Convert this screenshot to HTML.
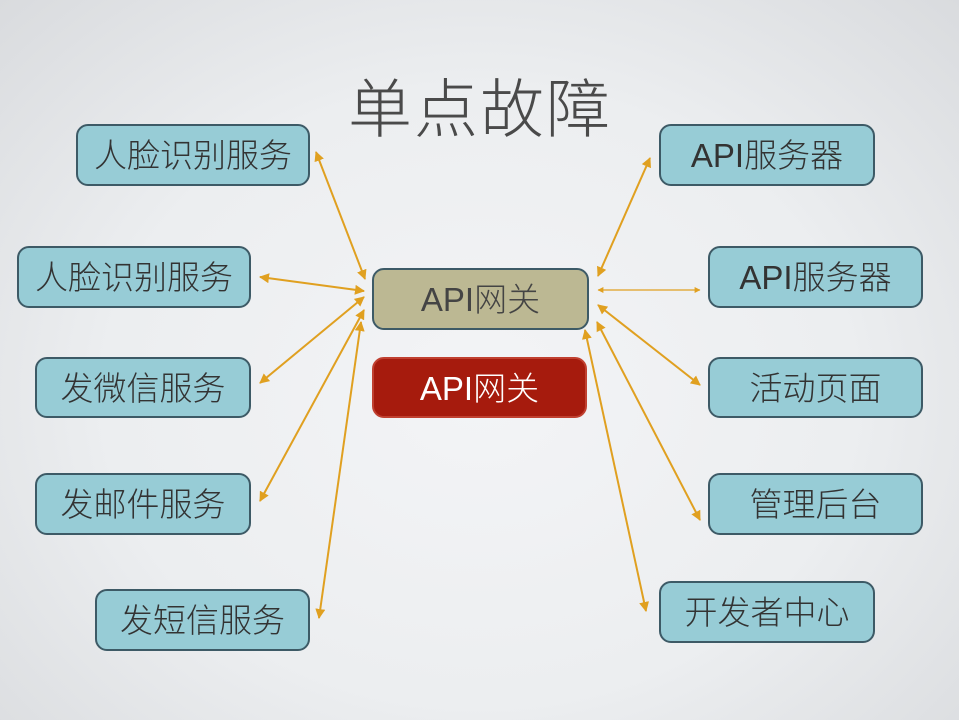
<!DOCTYPE html>
<html><head><meta charset="utf-8"><style>
html,body{margin:0;padding:0;}
body{width:959px;height:720px;overflow:hidden;background:radial-gradient(ellipse at 50% 55%,#f3f4f6 0%,#eceef0 55%,#d9dbde 100%);position:relative;font-family:"Liberation Sans","Noto Sans CJK SC",sans-serif;}
.t{position:absolute;left:300px;width:360px;top:70px;text-align:center;font-size:64px;color:#4a4a4a;font-weight:300;line-height:80px;letter-spacing:2px;}
.b{position:absolute;box-sizing:border-box;border:2px solid #3d5a66;border-radius:12px;background:#97ccd6;color:#333;font-size:33px;display:flex;align-items:center;justify-content:center;font-weight:300;padding-bottom:4px;}
svg{position:absolute;left:0;top:0;}
</style></head><body>
<div class="t">单点故障</div>
<div class="b" style="left:76px;top:124px;width:234px;height:62px">人脸识别服务</div>
<div class="b" style="left:17px;top:246px;width:234px;height:62px">人脸识别服务</div>
<div class="b" style="left:35px;top:357px;width:216px;height:61px">发微信服务</div>
<div class="b" style="left:35px;top:473px;width:216px;height:62px">发邮件服务</div>
<div class="b" style="left:95px;top:589px;width:215px;height:62px">发短信服务</div>
<div class="b" style="left:659px;top:124px;width:216px;height:62px">API服务器</div>
<div class="b" style="left:708px;top:246px;width:215px;height:62px">API服务器</div>
<div class="b" style="left:708px;top:357px;width:215px;height:61px">活动页面</div>
<div class="b" style="left:708px;top:473px;width:215px;height:62px">管理后台</div>
<div class="b" style="left:659px;top:581px;width:216px;height:62px">开发者中心</div>
<div class="b" style="left:372px;top:268px;width:217px;height:62px;background:#bcb893;color:#444">API网关</div>
<div class="b" style="left:372px;top:357px;width:215px;height:61px;background:#a61b0d;border-color:#c04030;color:#fff">API网关</div>
<svg width="959" height="720" viewBox="0 0 959 720">
<defs><marker id="a" viewBox="0 0 10 10" refX="9" refY="5" markerWidth="5" markerHeight="5" orient="auto-start-reverse"><path d="M0,0L10,5L0,10z" fill="#e0a020"/></marker></defs>
<g stroke="#e0a020" stroke-width="2" fill="none" marker-start="url(#a)" marker-end="url(#a)">
<line x1="316" y1="152" x2="365" y2="279"/>
<line x1="260" y1="277" x2="364" y2="291"/>
<line x1="260" y1="383" x2="364" y2="297"/>
<line x1="260" y1="501" x2="364" y2="310"/>
<line x1="319" y1="618" x2="361" y2="322"/>
<line x1="650" y1="158" x2="598" y2="276"/>
<line x1="598" y1="290" x2="700" y2="290" stroke-width="1.2"/>
<line x1="598" y1="305" x2="700" y2="385"/>
<line x1="597" y1="322" x2="700" y2="520"/>
<line x1="585" y1="330" x2="646" y2="611"/>
</g></svg>
</body></html>
